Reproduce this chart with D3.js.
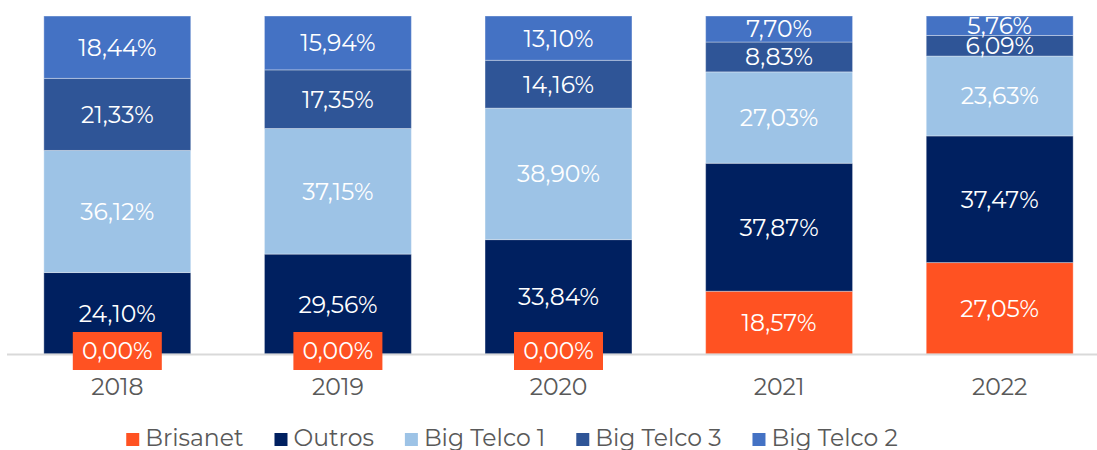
<!DOCTYPE html>
<html>
<head>
<meta charset="utf-8">
<script src="https://cdn.jsdelivr.net/npm/d3@7"></script>
<style>
  html, body { margin: 0; padding: 0; background: #fff; }
  svg { display: block; font-family: "Montserrat", "Open Sans", sans-serif; }
</style>
</head>
<body>
<svg id="chart" width="1097" height="450"></svg>
<script>
const years = ["2018", "2019", "2020", "2021", "2022"];
const seriesNames = ["Brisanet", "Outros", "Big Telco 1", "Big Telco 3", "Big Telco 2"];
const seriesColors = ["#FF5222", "#002060", "#9DC3E6", "#2F5597", "#4472C4"];

const brisanet = [0.0, 0.0, 0.0, 18.57, 27.05];
const outros = [24.1, 29.56, 33.84, 37.87, 37.47];
const bigTelco1 = [36.12, 37.15, 38.9, 27.03, 23.63];
const bigTelco3 = [21.33, 17.35, 14.16, 8.83, 6.09];
const bigTelco2 = [18.44, 15.94, 13.1, 7.7, 5.76];

const seriesValues = [brisanet, outros, bigTelco1, bigTelco3, bigTelco2];

const table = years.map((y, i) => {
  const row = { year: y };
  seriesNames.forEach((s, k) => (row[s] = seriesValues[k][i]));
  return row;
});

const svg = d3.select("#chart");
const margin = { top: 16, bottom: 96 };
const baseline = 450 - margin.bottom;

const x = d3.scaleBand().domain(years).range([7, 1110]).paddingInner(0.334).paddingOuter(0.167);
const total = d3.max(table, (d) => d3.sum(seriesNames, (s) => d[s]));
const y = d3.scaleLinear().domain([0, total]).range([baseline, margin.top]);

const stack = d3.stack().keys(seriesNames)(table);
const fmt = (v) => v.toFixed(2).replace(".", ",") + "%";
const fontSize = 23.5;

// bars
const layers = svg.append("g").selectAll("g")
  .data(stack)
  .join("g")
  .attr("fill", (d, i) => seriesColors[i]);

layers.selectAll("rect")
  .data((d) => d)
  .join("rect")
  .attr("x", (d) => x(d.data.year))
  .attr("width", x.bandwidth())
  .attr("y", (d) => y(d[1]))
  .attr("height", (d) => y(d[0]) - y(d[1]))
  .attr("stroke", "rgba(255,255,255,0.35)")
  .attr("stroke-width", 1);

// axis line
svg.append("line")
  .attr("x1", x.range()[0]).attr("x2", x.range()[1])
  .attr("y1", baseline + 0.5).attr("y2", baseline + 0.5)
  .attr("stroke", "#d9d9d9").attr("stroke-width", 2);

// year labels
svg.append("g").selectAll("text")
  .data(years)
  .join("text")
  .attr("x", (d) => x(d) + x.bandwidth() / 2)
  .attr("y", baseline + 41)
  .attr("text-anchor", "middle")
  .attr("font-size", fontSize)
  .attr("fill", "#595959")
  .text((d) => d);

// data labels
const labelG = svg.append("g");
stack.forEach((layer, k) => {
  layer.forEach((d) => {
    const v = d[1] - d[0];
    const cx = x(d.data.year) + x.bandwidth() / 2;
    const zero = v === 0;
    const cy = zero ? baseline - 3 : (y(d[0]) + y(d[1])) / 2;
    const g = labelG.append("g");
    if (zero) {
      g.append("rect")
        .attr("x", cx - 44.5)
        .attr("y", cy - 19)
        .attr("width", 89)
        .attr("height", 38)
        .attr("fill", seriesColors[k]);
    }
    g.append("text")
      .attr("x", cx)
      .attr("y", cy)
      .attr("dy", "0.36em")
      .attr("text-anchor", "middle")
      .attr("font-size", fontSize)
      .attr("fill", "#fff")
      .text(fmt(v));
  });
});

// legend
const legend = svg.append("g");
let lx = 0;
seriesNames.forEach((s, i) => {
  const item = legend.append("g").attr("transform", `translate(${lx},0)`);
  item.append("rect")
    .attr("x", 0).attr("y", 433)
    .attr("width", 13).attr("height", 13)
    .attr("fill", seriesColors[i]);
  const t = item.append("text")
    .attr("x", 19).attr("y", 446)
    .attr("font-size", fontSize)
    .attr("fill", "#595959")
    .text(s);
  lx += 19 + t.node().getComputedTextLength() + 31;
});
const legendWidth = lx - 31;
legend.attr("transform", `translate(${512 - legendWidth / 2},0)`);
</script>
</body>
</html>
